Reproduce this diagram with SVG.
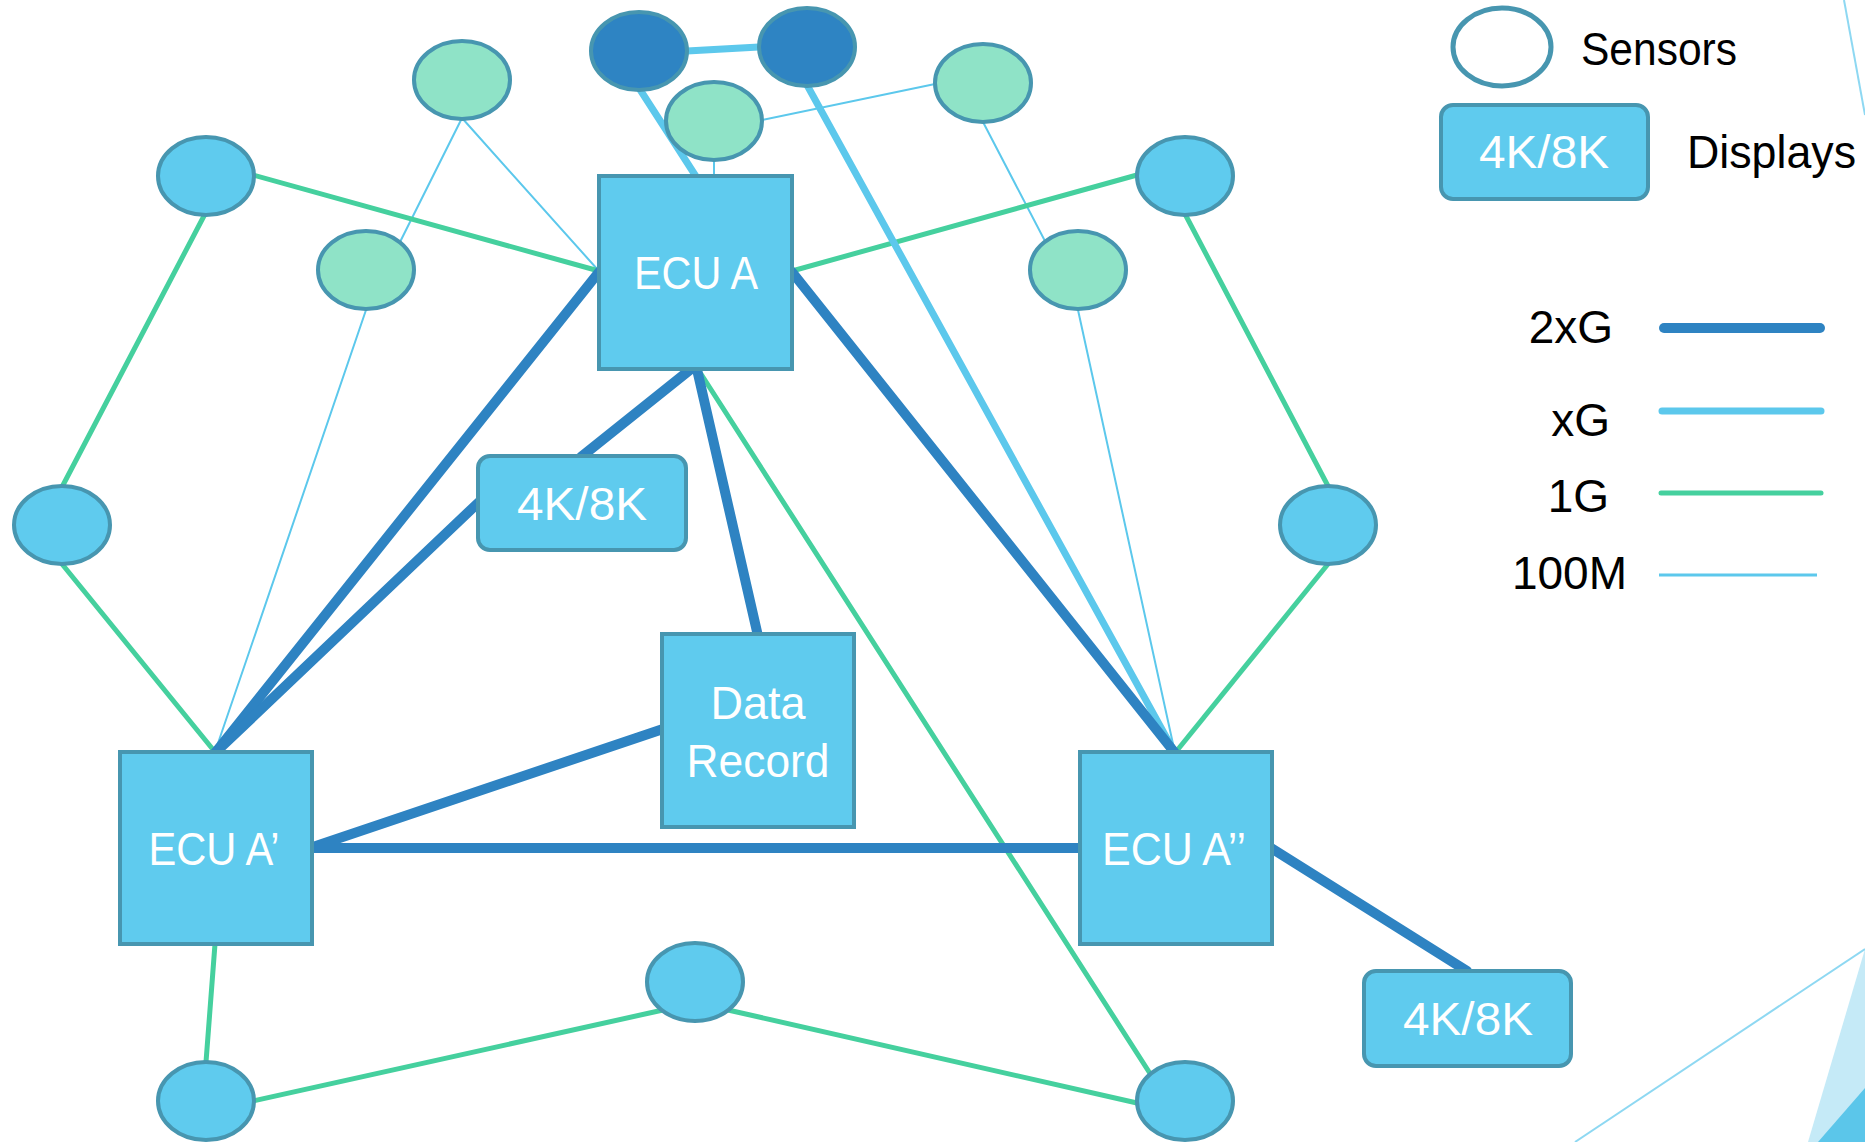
<svg xmlns="http://www.w3.org/2000/svg" width="1865" height="1142" viewBox="0 0 1865 1142">
<style>
.bg{fill:#ffffff}
.sb{fill:#5fcbee;stroke:#4796b0;stroke-width:4}
.sg{fill:#8fe3c7;stroke:#4796b0;stroke-width:4}
.sd{fill:#2e84c3;stroke:#4796b0;stroke-width:4}
.box{fill:#5fcbee;stroke:#4796b0;stroke-width:4}
.lbl{font-family:"Liberation Sans",Arial,sans-serif;font-size:46px;fill:#ffffff;text-anchor:middle}
.leg{font-family:"Liberation Sans",Arial,sans-serif;font-size:46px;fill:#000000}
.c2{stroke:#2e83c2;stroke-width:10;stroke-linecap:round;fill:none}
.cx{stroke:#5cc8ec;stroke-width:7;stroke-linecap:round;fill:none}
.c1{stroke:#45d09e;stroke-width:5;stroke-linecap:round;fill:none}
.c0{stroke:#5cc8ec;stroke-width:2;stroke-linecap:round;fill:none}
</style>
<rect class="bg" x="0" y="0" width="1865" height="1142"/>
<g id="decor">
<polygon points="1865,949 1808,1142 1865,1142" fill="#c5eaf7"/>
<polygon points="1865,1088 1818,1142 1865,1142" fill="#5bc6ea"/>
<line x1="1865" y1="949" x2="1575" y2="1142" stroke="#8ed8f2" stroke-width="2"/>
<line x1="1844" y1="0" x2="1865" y2="115" stroke="#8ed8f2" stroke-width="2"/>
</g>
<g id="connectors">
<line class="c0" x1="462" y1="118" x2="598" y2="270"/>
<line class="c0" x1="462" y1="118" x2="400" y2="242"/>
<line class="c0" x1="366" y1="310" x2="215" y2="752"/>
<line class="c0" x1="714" y1="160" x2="714" y2="176"/>
<line class="c0" x1="762" y1="120" x2="935" y2="84"/>
<line class="c0" x1="983" y1="122" x2="1046" y2="243"/>
<line class="c0" x1="1078" y1="310" x2="1175" y2="753"/>
<line class="c1" x1="253" y1="175" x2="599" y2="271"/>
<line class="c1" x1="205" y1="214" x2="62" y2="487"/>
<line class="c1" x1="62" y1="564" x2="215" y2="752"/>
<line class="c1" x1="792" y1="271" x2="1137" y2="175"/>
<line class="c1" x1="1185" y1="214" x2="1328" y2="486"/>
<line class="c1" x1="1328" y1="564" x2="1175" y2="753"/>
<line class="c1" x1="701" y1="374" x2="1151" y2="1075"/>
<line class="c1" x1="215" y1="944" x2="206" y2="1062"/>
<line class="c1" x1="253" y1="1101" x2="663" y2="1010"/>
<line class="c1" x1="728" y1="1010" x2="1137" y2="1103"/>
<line class="cx" x1="687" y1="51" x2="759" y2="47"/>
<line class="cx" x1="639" y1="88" x2="697" y2="178"/>
<line class="cx" x1="807" y1="85" x2="1175" y2="753"/>
<line class="c2" x1="599" y1="272" x2="215" y2="753"/>
<line class="c2" x1="479" y1="502" x2="215" y2="753"/>
<line class="c2" x1="696" y1="365" x2="581" y2="457"/>
<line class="c2" x1="696" y1="365" x2="758" y2="636"/>
<line class="c2" x1="792" y1="272" x2="1175" y2="753"/>
<line class="c2" x1="310" y1="848" x2="663" y2="729"/>
<line class="c2" x1="310" y1="848" x2="1081" y2="848"/>
<line class="c2" x1="1271" y1="848" x2="1467" y2="971"/>
</g>
<g id="sensor-green-top"><ellipse class="sg" cx="462" cy="80" rx="48" ry="39"/></g>
<g id="sensor-dark-1"><ellipse class="sd" cx="639" cy="51" rx="48" ry="39"/></g>
<g id="sensor-dark-2"><ellipse class="sd" cx="807" cy="47" rx="48" ry="39"/></g>
<g id="sensor-green-mid"><ellipse class="sg" cx="714" cy="121" rx="48" ry="39"/></g>
<g id="sensor-green-topright"><ellipse class="sg" cx="983" cy="83" rx="48" ry="39"/></g>
<g id="sensor-green-left"><ellipse class="sg" cx="366" cy="270" rx="48" ry="39"/></g>
<g id="sensor-green-right"><ellipse class="sg" cx="1078" cy="270" rx="48" ry="39"/></g>
<g id="sensor-blue-lt"><ellipse class="sb" cx="206" cy="176" rx="48" ry="39"/></g>
<g id="sensor-blue-rt"><ellipse class="sb" cx="1185" cy="176" rx="48" ry="39"/></g>
<g id="sensor-blue-lm"><ellipse class="sb" cx="62" cy="525" rx="48" ry="39"/></g>
<g id="sensor-blue-rm"><ellipse class="sb" cx="1328" cy="525" rx="48" ry="39"/></g>
<g id="sensor-blue-bl"><ellipse class="sb" cx="206" cy="1101" rx="48" ry="39"/></g>
<g id="sensor-blue-bm"><ellipse class="sb" cx="695" cy="982" rx="48" ry="39"/></g>
<g id="sensor-blue-br"><ellipse class="sb" cx="1185" cy="1101" rx="48" ry="39"/></g>
<g id="ecu-a"><rect class="box" x="599" y="176" width="193" height="193"/><text class="lbl" x="696" y="289" textLength="124" lengthAdjust="spacingAndGlyphs">ECU A</text></g>
<g id="ecu-a1"><rect class="box" x="120" y="752" width="192" height="192"/><text class="lbl" x="214" y="865" textLength="131" lengthAdjust="spacingAndGlyphs">ECU A’</text></g>
<g id="ecu-a2"><rect class="box" x="1080" y="752" width="192" height="192"/><text class="lbl" x="1174" y="865" textLength="144" lengthAdjust="spacingAndGlyphs">ECU A’’</text></g>
<g id="data-record"><rect class="box" x="662" y="634" width="192" height="193"/><text class="lbl" x="758" y="719" textLength="95" lengthAdjust="spacingAndGlyphs">Data</text><text class="lbl" x="758" y="777" textLength="143" lengthAdjust="spacingAndGlyphs">Record</text></g>
<g id="display-1"><rect class="box" x="478" y="456" width="208" height="94" rx="12"/><text class="lbl" x="582" y="520" textLength="130" lengthAdjust="spacingAndGlyphs">4K/8K</text></g>
<g id="display-2"><rect class="box" x="1364" y="971" width="207" height="95" rx="12"/><text class="lbl" x="1468" y="1035" textLength="130" lengthAdjust="spacingAndGlyphs">4K/8K</text></g>
<g id="legend">
<ellipse cx="1502" cy="47" rx="49" ry="39" fill="#ffffff" stroke="#4796b0" stroke-width="5"/>
<text class="leg" x="1581" y="65" textLength="156" lengthAdjust="spacingAndGlyphs">Sensors</text>
<rect class="box" x="1441" y="105" width="207" height="94" rx="12"/>
<text class="lbl" x="1544" y="168" textLength="130" lengthAdjust="spacingAndGlyphs">4K/8K</text>
<text class="leg" x="1687" y="168" textLength="169" lengthAdjust="spacingAndGlyphs">Displays</text>
<text class="leg" x="1613" y="343" text-anchor="end">2xG</text>
<line class="c2" x1="1664" y1="328" x2="1820" y2="328"/>
<text class="leg" x="1610" y="436" text-anchor="end">xG</text>
<line class="cx" x1="1662" y1="411" x2="1821" y2="411"/>
<text class="leg" x="1609" y="512" text-anchor="end">1G</text>
<line class="c1" x1="1661" y1="493" x2="1821" y2="493"/>
<text class="leg" x="1627" y="589" text-anchor="end">100M</text>
<line x1="1659" y1="575" x2="1817" y2="575" stroke="#5cc8ec" stroke-width="3"/>
</g>
</svg>
